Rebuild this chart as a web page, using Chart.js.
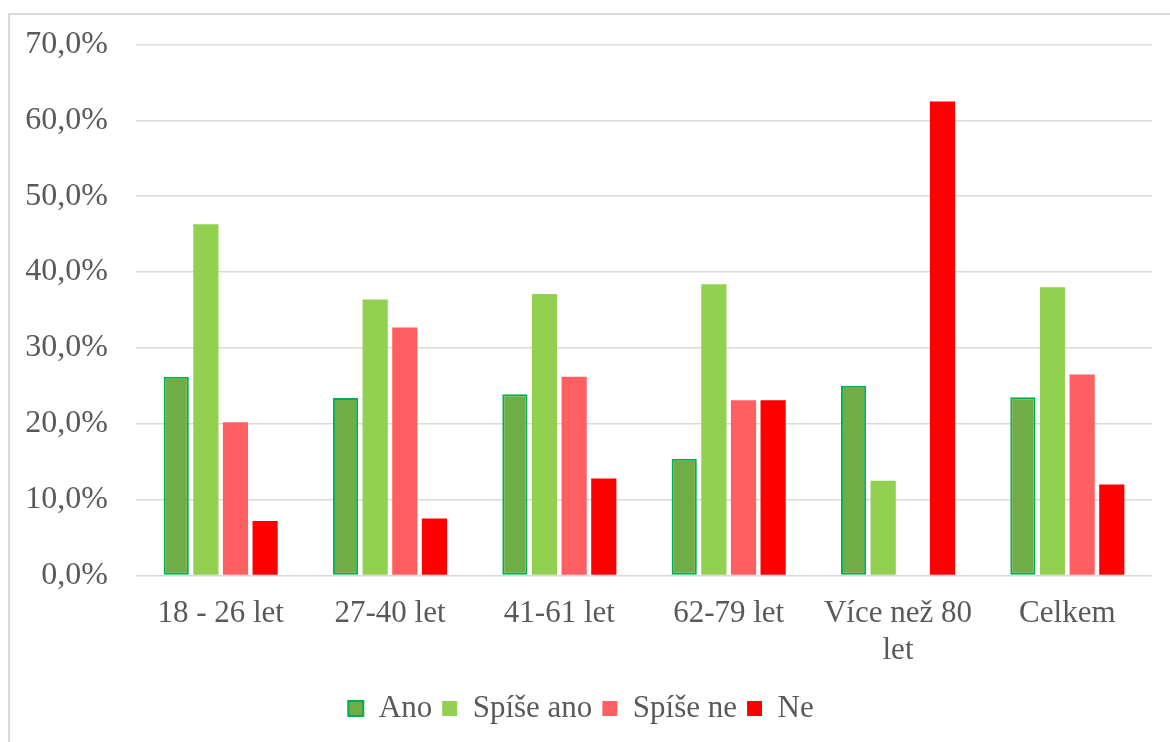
<!DOCTYPE html>
<html>
<head>
<meta charset="utf-8">
<script src="https://cdn.jsdelivr.net/npm/chart.js@4"></script>
<style>
  body { margin: 0; background: #fff; }
  #frame {
    position: absolute; left: 8px; top: 13px;
    border-left: 2px solid #d9d9d9; border-top: 2px solid #d9d9d9;
  }
  canvas { display: block; }
</style>
</head>
<body>
<div id="frame"><canvas id="chart" width="1160" height="727"></canvas></div>
<script>
const categories = ['18 - 26 let', '27-40 let', '41-61 let', '62-79 let', ['Více než 80', 'let'], 'Celkem'];
const ano = [26.2, 23.4, 23.9, 15.4, 25.0, 23.5];
const spiseAno = [46.3, 36.4, 37.1, 38.4, 12.5, 38.0];
const spiseNe = [20.2, 32.7, 26.2, 23.1, 0, 26.5];
const ne = [7.2, 7.5, 12.8, 23.1, 62.5, 12.0];
const yTicksMax = 70;

const serif = "'Liberation Serif', 'Times New Roman', serif";
const grey = '#595959';
Chart.defaults.font.family = serif;

const ds = (label, data, color, extra) => Object.assign({
  label: label,
  data: data,
  backgroundColor: color,
  borderWidth: 0,
  categoryPercentage: 0.7,
  barPercentage: 0.85
}, extra || {});

new Chart(document.getElementById('chart'), {
  type: 'bar',
  data: {
    labels: categories,
    datasets: [
      ds('Ano', ano, '#70ad47', { borderColor: '#00b050', borderWidth: 2, borderSkipped: false }),
      ds('Spíše ano', spiseAno, '#92d050'),
      ds('Spíše ne', spiseNe, '#ff5f61'),
      ds('Ne', ne, '#ff0000')
    ]
  },
  options: {
    responsive: false,
    animation: false,
    layout: { padding: { top: 29.5, right: 18, bottom: 8, left: 0 } },
    plugins: {
      tooltip: { enabled: false },
      legend: {
        position: 'bottom',
        labels: {
          font: { family: serif, size: 31 },
          color: grey,
          boxWidth: 15,
          boxHeight: 15,
          padding: 10
        }
      }
    },
    scales: {
      x: {
        afterFit: s => { s.height = 107.5; },
        grid: { display: false },
        border: { display: false },
        ticks: { font: { family: serif, size: 31 }, color: grey, padding: 12, maxRotation: 0, autoSkip: false }
      },
      y: {
        min: 0,
        max: yTicksMax,
        afterFit: s => { s.width = 126; s.paddingTop = 0; s.paddingBottom = 0; },
        grid: { color: '#d9d9d9', lineWidth: 1.5, drawTicks: false },
        border: { display: false },
        ticks: {
          stepSize: 10,
          font: { family: serif, size: 32 },
          color: grey,
          padding: 28,
          callback: v => v.toFixed(1).replace('.', ',') + '%'
        }
      }
    }
  }
});
</script>
</body>
</html>
